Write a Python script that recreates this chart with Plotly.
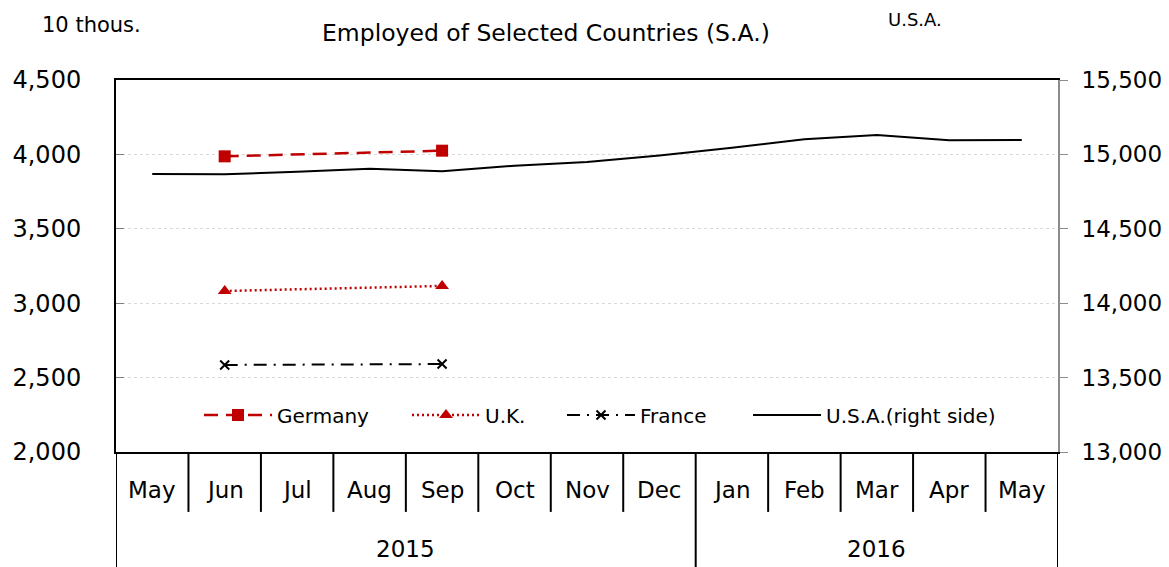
import plotly.graph_objects as go

months = ["May", "Jun", "Jul", "Aug", "Sep", "Oct", "Nov", "Dec",
          "Jan", "Feb", "Mar", "Apr", "May"]
years = ["2015", "2016"]
year_spans = [(0, 7), (8, 12)]  # first / last month index of each year

germany = [None, 3987, None, None, 4025, None, None, None, None, None, None, None, None]
uk = [None, 3082, None, None, 3116, None, None, None, None, None, None, None, None]
france = [None, 2585, None, None, 2591, None, None, None, None, None, None, None, None]
usa = [14868, 14866, 14884, 14904, 14886, 14924, 14949, 14993,
       15045, 15101, 15130, 15095, 15097]

FONT = "DejaVu Sans"
RED = "#C00000"
idx = list(range(len(months)))

fig = go.Figure()
fig.add_trace(go.Scatter(
    x=idx, y=germany, name="Germany", connectgaps=True, mode="lines+markers",
    line=dict(color=RED, width=2.5, dash="14px,8px"),
    marker=dict(symbol="square", size=12, color=RED), legend="legend",
))
fig.add_trace(go.Scatter(
    x=idx, y=uk, name="U.K.", connectgaps=True, mode="lines+markers",
    line=dict(color=RED, width=2.5, dash="2px,3px"),
    marker=dict(symbol="triangle-up", size=12, color=RED), legend="legend2",
))
fig.add_trace(go.Scatter(
    x=idx, y=france, name="France", connectgaps=True, mode="lines+markers",
    line=dict(color="black", width=2, dash="13px,7px,2px,7px"),
    marker=dict(symbol="x-thin", size=9, line=dict(color="black", width=2)),
    legend="legend3",
))
fig.add_trace(go.Scatter(
    x=idx, y=usa, name="U.S.A.(right side)", mode="lines", yaxis="y2",
    line=dict(color="black", width=2), legend="legend4",
))

# category table under the plot
shapes = []
for b in range(len(months) + 1):
    edge = b - 0.5
    full = b in (0, 8, len(months))
    shapes.append(dict(type="line", xref="x", yref="paper", x0=edge, x1=edge,
                       y0=-0.32 if full else -0.161, y1=0,
                       line=dict(color="black", width=2)))

annotations = []
for i, m in enumerate(months):
    annotations.append(dict(x=i, y=-0.102, xref="x", yref="paper", text=m,
                            xanchor="center", yanchor="middle",
                            showarrow=False, font=dict(size=23)))
for yr, (a, b) in zip(years, year_spans):
    annotations.append(dict(x=(a + b) / 2, y=-0.262, xref="x", yref="paper", text=yr,
                            xanchor="center", yanchor="middle",
                            showarrow=False, font=dict(size=23)))
annotations.append(dict(x=-0.0265, y=1.148, xref="paper", yref="paper", text="10 thous.",
                        xanchor="center", yanchor="middle",
                        showarrow=False, font=dict(size=21)))
annotations.append(dict(x=0.848, y=1.163, xref="paper", yref="paper", text="U.S.A.",
                        xanchor="center", yanchor="middle",
                        showarrow=False, font=dict(size=18)))


def leg(x):
    return dict(orientation="h", x=x, xanchor="left", y=0.0995, yanchor="middle",
                bgcolor="rgba(0,0,0,0)", itemwidth=68, font=dict(size=20), visible=True)


fig.update_layout(
    width=1169, height=567,
    margin=dict(l=116, r=111, t=80, b=115, autoexpand=False),
    paper_bgcolor="white", plot_bgcolor="white",
    showlegend=True,
    font=dict(family=FONT, size=21, color="black"),
    title=dict(text="Employed of Selected Countries (S.A.)", x=0.467, xanchor="center",
               y=0.942, yanchor="middle", font=dict(size=23.5)),
    xaxis=dict(range=[-0.5, 12.5], showticklabels=False, ticks="", showgrid=False,
               showline=True, mirror=True, linecolor="black", linewidth=2, zeroline=False,
               automargin=False),
    yaxis=dict(range=[2000, 4500], dtick=500, tickformat=",", showgrid=True,
               gridcolor="#d9d9d9", griddash="dot", gridwidth=1, zeroline=False,
               showline=True, linecolor="black", linewidth=2,
               ticks="inside", ticklen=8, tickcolor="#808080", automargin=False,
               ticklabelstandoff=28, tickfont=dict(size=24)),
    yaxis2=dict(range=[13000, 15500], dtick=500, tickformat=",", overlaying="y",
                side="right", showgrid=False, zeroline=False,
                showline=True, linecolor="#8c8c8c", linewidth=2,
                ticks="outside", ticklen=8, tickcolor="#8c8c8c", automargin=False,
                ticklabelstandoff=9, tickfont=dict(size=23)),
    legend=leg((199 - 116) / 942),
    legend2=leg((407 - 116) / 942),
    legend3=leg((562 - 116) / 942),
    legend4=leg((748 - 116) / 942),
    shapes=shapes,
    annotations=annotations,
)

fig.write_html("out.html", config={"displayModeBar": False},
               post_script="document.body.style.margin='0';document.body.style.padding='0';")
